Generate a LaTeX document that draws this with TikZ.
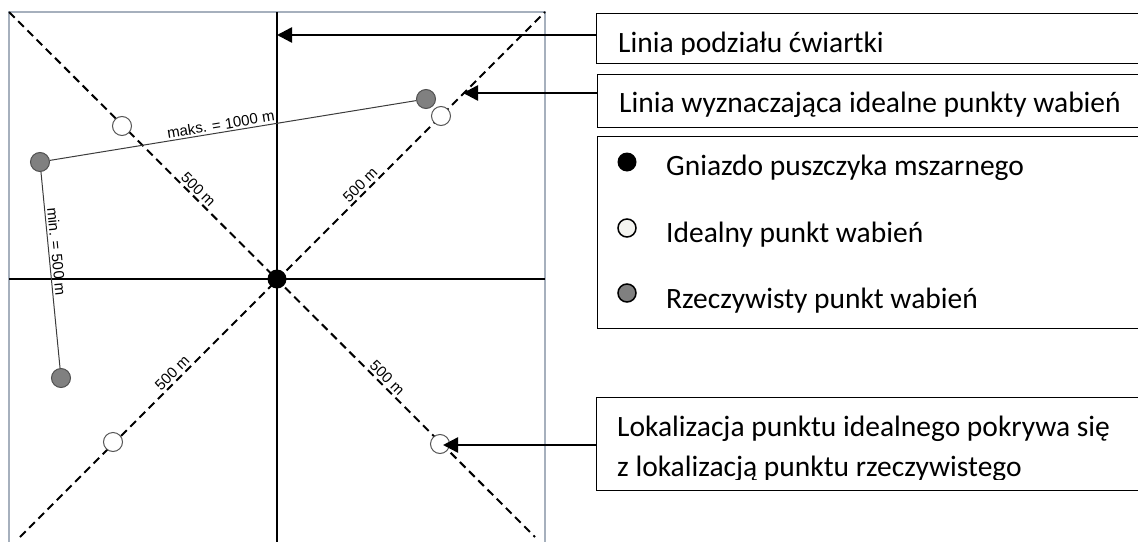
\documentclass[tikz,border=0pt]{standalone}
\usepackage{fontspec}
\setmainfont{Carlito}
\newfontfamily\mapfont{Liberation Sans}
\usetikzlibrary{arrows.meta,calc}
\definecolor{framegray}{RGB}{166,176,189}
\definecolor{realfill}{RGB}{128,128,128}
\definecolor{realedge}{RGB}{80,80,80}
\definecolor{linkgray}{RGB}{60,60,60}
\definecolor{idealedge}{RGB}{85,85,85}
\definecolor{legwhite}{RGB}{244,244,240}
\begin{document}
\begin{tikzpicture}[x=1pt,y=-1pt,
  quarter/.style={line width=2pt,black},
  diag/.style={line width=2pt,dash pattern=on 8pt off 5pt},
  nest/.style={circle,fill=black,minimum size=19pt,inner sep=0pt},
  ideal/.style={circle,draw=idealedge,fill=white,line width=1pt,minimum size=19pt,inner sep=0pt},
  real/.style={circle,draw=realedge,fill=realfill,line width=1pt,minimum size=19pt,inner sep=0pt},
  keyideal/.style={circle,draw=black,fill=legwhite,line width=1.5pt,minimum size=18pt,inner sep=0pt},
  keyreal/.style={circle,draw=black,fill=realfill,line width=1.5pt,minimum size=18pt,inner sep=0pt},
  link/.style={draw=linkgray,line width=1pt},
  dist/.style={font=\mapfont\fontsize{15}{17}\selectfont,sloped,above,inner sep=2pt},
  box/.style={draw=black,line width=1.3pt,anchor=north west,inner sep=0pt,minimum width=600pt},
  boxtext/.style={font=\fontsize{29.5}{34}\selectfont,anchor=base west,inner sep=0pt},
  pointer/.style={line width=2.5pt,-{Triangle[length=15pt,width=15pt]}},
]
\useasboundingbox (0,0) rectangle (1138,541);
\clip (0,0) rectangle (1138,541);

% frame of the map
\draw[framegray,line width=1.5pt] (9,560) -- (9,12) -- (545,12) -- (545,560);

% quarter division lines
\coordinate (qt) at (277,12);
\coordinate (qb) at (277,560);
\coordinate (ql) at (9,279);
\coordinate (qr) at (545,279);
\draw[quarter] (qt) -- (qb);
\draw[quarter] (ql) -- (qr);

% diagonals
\coordinate (d1a) at (9,12);
\coordinate (d1b) at (535,537);
\coordinate (d2a) at (20,537);
\coordinate (d2b) at (545,12);
\draw[diag] (d1a) -- node[dist,pos=0.349] (l1) {500 m} node[dist,pos=0.708] (l2) {500 m} (d1b);
\draw[diag] (d2a) -- node[dist,pos=0.301] (l3) {500 m} node[dist,pos=0.659] (l4) {500 m} (d2b);

% points
\node[nest] (nest) at (277,279) {};
\node[ideal] (i1) at (122,126) {};
\node[ideal] (i2) at (441,116) {};
\node[ideal] (i3) at (113,442) {};
\node[ideal] (i4) at (440,444) {};
\node[real] (r1) at (426,99) {};
\node[real] (r2) at (40,162) {};
\node[real] (r3) at (61,378) {};

\draw[link] (r2) -- node[dist,pos=0.47] (lmax) {maks. = 1000 m} (r1);
\draw[link] (r2) -- node[dist,pos=0.41] (lmin) {min. = 500 m} (r3);

% boxes
\node[box,minimum height=50pt] (b1) at (596,13) {};
\begin{scope}
  \clip (596,13) rectangle (1138,54.5);
  \node[boxtext] (t1) at (618,52) {Linia podziału ćwiartki};
\end{scope}

\node[box,minimum height=53pt] (b2) at (597,74) {};
\node[boxtext] (t2) at (619,112) {Linia wyznaczająca idealne punkty wabień};

\node[box,minimum height=192pt] (b3) at (597,136) {};
\node[nest] (kn) at (627,162) {};
\node[keyideal] (ki) at (627,228) {};
\node[keyreal] (kr) at (627,293) {};
\node[boxtext] (tn) at (666,175) {Gniazdo puszczyka mszarnego};
\node[boxtext] (ti) at (666,242) {Idealny punkt wabień};
\node[boxtext] (tr) at (666,308) {Rzeczywisty punkt wabień};

\node[box,minimum height=93pt] (b4) at (596,397) {};
\node[boxtext] (t4a) at (617,436) {Lokalizacja punktu idealnego pokrywa się};
\begin{scope}
  \clip (596,397) rectangle (1138,479);
  \node[boxtext] (t4b) at (617,476) {z lokalizacją punktu rzeczywistego};
\end{scope}

% pointers
\coordinate (p1) at (277,35);
\coordinate (p2) at (463,93);
\coordinate (p3) at (443,445);
\draw[pointer] (b1.west |- p1) -- (p1);
\draw[pointer] (b2.west |- p2) -- (p2);
\draw[pointer] (b4.west |- p3) -- (p3);
\end{tikzpicture}
\end{document}
